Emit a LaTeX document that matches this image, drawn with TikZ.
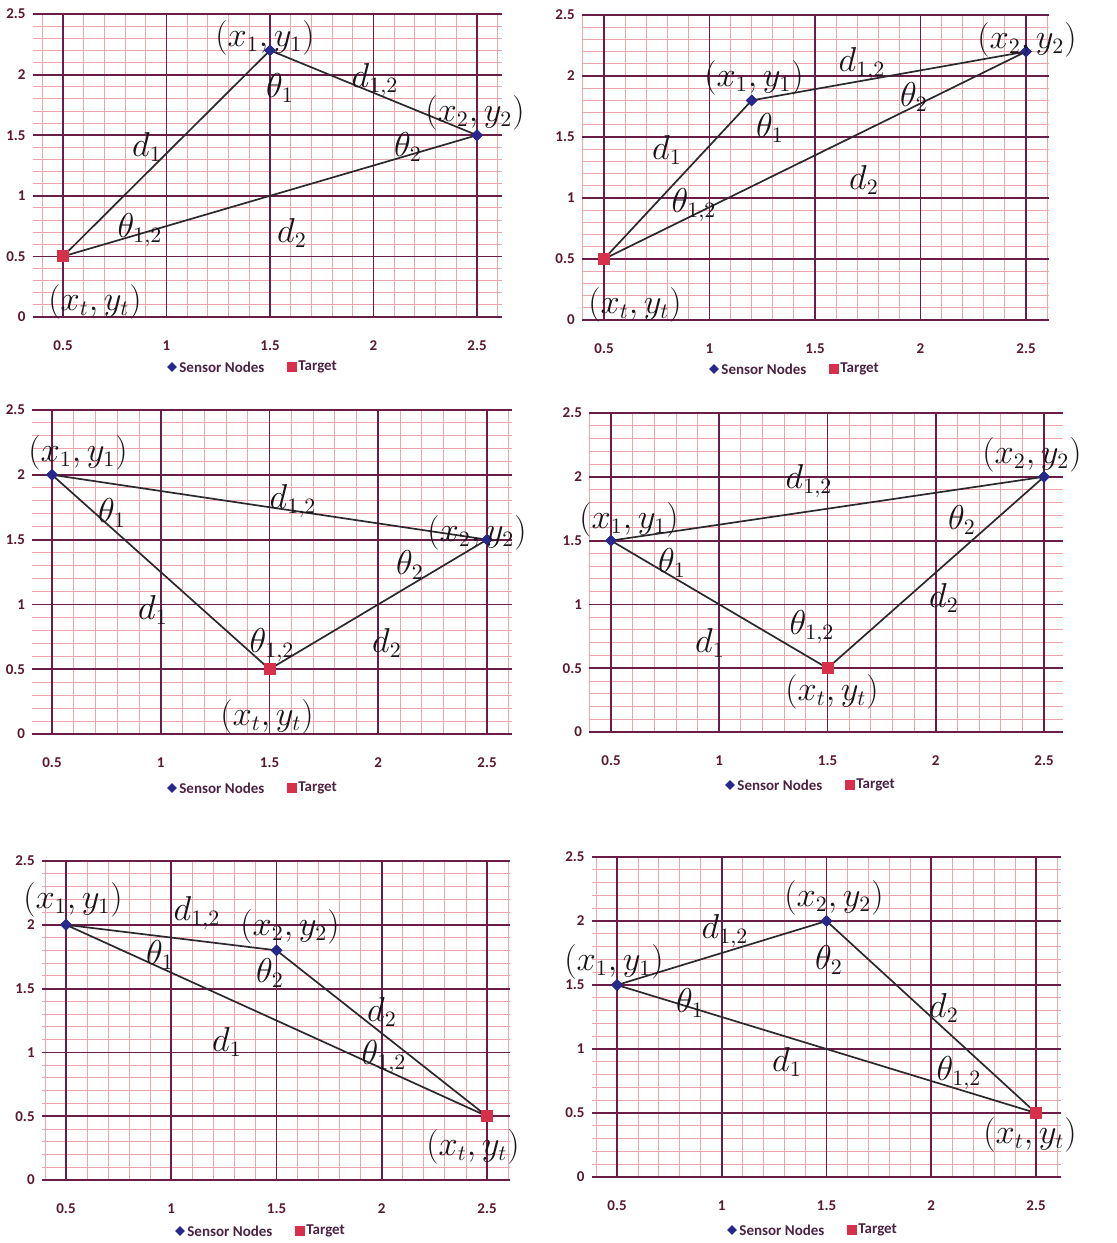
\documentclass[tikz,border=0pt]{standalone}
\usepackage{fontspec}
\newfontfamily\carlito{Carlito}
\usetikzlibrary{shapes.geometric,calc}
\definecolor{gridminor}{RGB}{236,165,172}
\definecolor{gridmajor}{RGB}{105,30,72}
\definecolor{edgecol}{RGB}{45,40,45}
\definecolor{sensorcol}{RGB}{40,40,140}
\definecolor{targetcol}{RGB}{214,48,74}
\definecolor{tickcol}{RGB}{90,25,45}
\definecolor{legcol}{RGB}{75,35,65}
\definecolor{labcol}{RGB}{25,20,25}
\newcommand\tickfont{\fontsize{7.5}{8}\selectfont\carlito\bfseries}
\newcommand\labfont{\fontsize{16}{18}\selectfont}
\tikzset{
  minorline/.style={draw=gridminor, line width=0.45pt},
  majorline/.style={draw=gridmajor, line width=0.9pt},
  edgeline/.style={draw=edgecol, line width=0.85pt},
  sensor/.style={diamond, fill=sensorcol, inner sep=0pt, minimum size=6pt},
  target/.style={rectangle, fill=targetcol, inner sep=0pt, minimum size=6pt},
  legsensor/.style={diamond, fill=sensorcol, inner sep=0pt, minimum size=5pt},
  legtarget/.style={rectangle, fill=targetcol, inner sep=0pt, minimum size=5pt},
  ticklab/.style={font=\tickfont, text=tickcol, inner sep=0pt},
  legtext/.style={font=\tickfont, text=legcol, inner sep=0pt, anchor=west},
  lab/.style={font=\labfont, text=labcol, inner sep=0pt},
}
% #1 xmin, #2 xmax, #3 prefix
\newcommand\plotgrid[3]{%
  \draw[minorline, step=0.1] (#1,0) grid (#2,2.5);
  \foreach \v in {0,0.5,...,2.5} \draw[majorline] (#1,\v) -- (#2,\v);
  \foreach \u in {0.5,1,...,2.5} \draw[majorline] (\u,0) -- (\u,2.5);
  \foreach \u/\t [count=\k] in {0.5/0.5,1/1,1.5/1.5,2/2,2.5/2.5}
    \node[ticklab] (#3xt\k) at (\u,0) [yshift=-14.5pt] {\t};
  \foreach \v/\t [count=\k] in {0/0,0.5/0.5,1/1,1.5/1.5,2/2,2.5/2.5}
    \node[ticklab, anchor=east] (#3yt\k) at (#1,\v) [xshift=-3.5pt] {\t};
}
% legend: #1 prefix, #2 x px of diamond, #3 y px
\newcommand\plotlegend[3]{%
  \node[legsensor] (#1ld) at (#2,#3) {};
  \node[legtext] (#1lt) at ($(#2,#3)+(7,0)$) {Sensor Nodes};
  \node[legtarget] (#1ls) at ($(#2,#3)+(120,0)$) {};
  \node[legtext] (#1lu) at ($(#2,#3)+(126,0)$) {Target};
}
\begin{document}
\begin{tikzpicture}[x=0.5pt,y=-0.5pt]
\useasboundingbox (0,0) rectangle (1117,1243);
\fill[white] (0,0) rectangle (1117,1243);

% ---------------- Panel 1 ----------------
\begin{scope}[shift={(-40.5,317)}, x=103.5pt, y=60.6pt]
  \plotgrid{0.355}{2.62}{pa}
  \node[target] (pat) at (0.5,0.5) {};
  \node[sensor] (pas1) at (1.5,2.2) {};
  \node[sensor] (pas2) at (2.5,1.5) {};
  \draw[edgeline] (pat.center) -- (pas1.center) -- (pas2.center) -- (pat.center);
  \node[target] at (pat) {};
  \node[sensor] at (pas1) {};
  \node[sensor] at (pas2) {};
\end{scope}
\plotlegend{pa}{172}{367}
\node[lab] (pal1) at (265,38) {$(x_1,y_1)$};
\node[lab] (pal2) at (280,88) {$\theta_1$};
\node[lab] (pal3) at (375,80) {$d_{1,2}$};
\node[lab] (pal4) at (475,113) {$(x_2,y_2)$};
\node[lab] (pal5) at (408,147) {$\theta_2$};
\node[lab] (pal6) at (147,147) {$d_1$};
\node[lab] (pal7) at (140,230) {$\theta_{1,2}$};
\node[lab] (pal8) at (292,233) {$d_2$};
\node[lab] (pal9) at (95,302) {$(x_t,y_t)$};

% ---------------- Panel 2 ----------------
\begin{scope}[shift={(498.5,320)}, x=105.5pt, y=61pt]
  \plotgrid{0.396}{2.61}{pb}
  \node[target] (pbt) at (0.5,0.5) {};
  \node[sensor] (pbs1) at (1.2,1.8) {};
  \node[sensor] (pbs2) at (2.5,2.2) {};
  \draw[edgeline] (pbt.center) -- (pbs1.center) -- (pbs2.center) -- (pbt.center);
  \node[target] at (pbt) {};
  \node[sensor] at (pbs1) {};
  \node[sensor] at (pbs2) {};
\end{scope}
\plotlegend{pb}{714}{369}
\node[lab] (pbl1) at (1027,40) {$(x_2,y_2)$};
\node[lab] (pbl2) at (862,64) {$d_{1,2}$};
\node[lab] (pbl3) at (754,78) {$(x_1,y_1)$};
\node[lab] (pbl4) at (914,97) {$\theta_2$};
\node[lab] (pbl5) at (770,128) {$\theta_1$};
\node[lab] (pbl6) at (667,150) {$d_1$};
\node[lab] (pbl7) at (864,180) {$d_2$};
\node[lab] (pbl8) at (694,205) {$\theta_{1,2}$};
\node[lab] (pbl9) at (635,305) {$(x_t,y_t)$};

% ---------------- Panel 3 ----------------
\begin{scope}[shift={(-56.75,734)}, x=108.75pt, y=64.8pt]
  \plotgrid{0.41}{2.615}{pc}
  \node[target] (pct) at (1.5,0.5) {};
  \node[sensor] (pcs1) at (0.5,2.0) {};
  \node[sensor] (pcs2) at (2.5,1.5) {};
  \draw[edgeline] (pct.center) -- (pcs1.center) -- (pcs2.center) -- (pct.center);
  \node[target] at (pct) {};
  \node[sensor] at (pcs1) {};
  \node[sensor] at (pcs2) {};
\end{scope}
\plotlegend{pc}{172}{788}
\node[lab] (pcl1) at (78,453) {$(x_1,y_1)$};
\node[lab] (pcl2) at (112,513) {$\theta_1$};
\node[lab] (pcl3) at (293,501) {$d_{1,2}$};
\node[lab] (pcl4) at (477,533) {$(x_2,y_2)$};
\node[lab] (pcl5) at (410,565) {$\theta_2$};
\node[lab] (pcl6) at (153,610) {$d_1$};
\node[lab] (pcl7) at (272,645) {$\theta_{1,2}$};
\node[lab] (pcl8) at (387,643) {$d_2$};
\node[lab] (pcl9) at (267,717) {$(x_t,y_t)$};

% ---------------- Panel 4 ----------------
\begin{scope}[shift={(502.75,732)}, x=108.25pt, y=63.8pt]
  \plotgrid{0.40}{2.59}{pd}
  \node[target] (pdt) at (1.5,0.5) {};
  \node[sensor] (pds1) at (0.5,1.5) {};
  \node[sensor] (pds2) at (2.5,2.0) {};
  \draw[edgeline] (pdt.center) -- (pds1.center) -- (pds2.center) -- (pdt.center);
  \node[target] at (pdt) {};
  \node[sensor] at (pds1) {};
  \node[sensor] at (pds2) {};
\end{scope}
\plotlegend{pd}{730}{785}
\node[lab] (pdl1) at (1032,455) {$(x_2,y_2)$};
\node[lab] (pdl2) at (809,481) {$d_{1,2}$};
\node[lab] (pdl3) at (629,520) {$(x_1,y_1)$};
\node[lab] (pdl4) at (962,520) {$\theta_2$};
\node[lab] (pdl5) at (672,563) {$\theta_1$};
\node[lab] (pdl6) at (944,598) {$d_2$};
\node[lab] (pdl7) at (812,627) {$\theta_{1,2}$};
\node[lab] (pdl8) at (710,643) {$d_1$};
\node[lab] (pdl9) at (832,692) {$(x_t,y_t)$};

% ---------------- Panel 5 ----------------
\begin{scope}[shift={(-39.25,1180)}, x=105.25pt, y=63.8pt]
  \plotgrid{0.386}{2.61}{pe}
  \node[target] (pet) at (2.5,0.5) {};
  \node[sensor] (pes1) at (0.5,2.0) {};
  \node[sensor] (pes2) at (1.5,1.8) {};
  \draw[edgeline] (pet.center) -- (pes1.center) -- (pes2.center) -- (pet.center);
  \node[target] at (pet) {};
  \node[sensor] at (pes1) {};
  \node[sensor] at (pes2) {};
\end{scope}
\plotlegend{pe}{180}{1231}
\node[lab] (pel1) at (73,900) {$(x_1,y_1)$};
\node[lab] (pel2) at (197,913) {$d_{1,2}$};
\node[lab] (pel3) at (290,927) {$(x_2,y_2)$};
\node[lab] (pel4) at (160,955) {$\theta_1$};
\node[lab] (pel5) at (270,973) {$\theta_2$};
\node[lab] (pel6) at (382,1012) {$d_2$};
\node[lab] (pel7) at (227,1042) {$d_1$};
\node[lab] (pel8) at (384,1057) {$\theta_{1,2}$};
\node[lab] (pel9) at (473,1147) {$(x_t,y_t)$};

% ---------------- Panel 6 ----------------
\begin{scope}[shift={(512.25,1177)}, x=104.75pt, y=64pt]
  \plotgrid{0.38}{2.62}{pf}
  \node[target] (pft) at (2.5,0.5) {};
  \node[sensor] (pfs1) at (0.5,1.5) {};
  \node[sensor] (pfs2) at (1.5,2.0) {};
  \draw[edgeline] (pft.center) -- (pfs1.center) -- (pfs2.center) -- (pft.center);
  \node[target] at (pft) {};
  \node[sensor] at (pfs1) {};
  \node[sensor] at (pfs2) {};
\end{scope}
\plotlegend{pf}{732}{1230}
\node[lab] (pfl1) at (834,898) {$(x_2,y_2)$};
\node[lab] (pfl2) at (725,931) {$d_{1,2}$};
\node[lab] (pfl3) at (614,962) {$(x_1,y_1)$};
\node[lab] (pfl4) at (829,960) {$\theta_2$};
\node[lab] (pfl5) at (690,1003) {$\theta_1$};
\node[lab] (pfl6) at (944,1008) {$d_2$};
\node[lab] (pfl7) at (787,1062) {$d_1$};
\node[lab] (pfl8) at (959,1073) {$\theta_{1,2}$};
\node[lab] (pfl9) at (1030,1135) {$(x_t,y_t)$};
\end{tikzpicture}
\end{document}
